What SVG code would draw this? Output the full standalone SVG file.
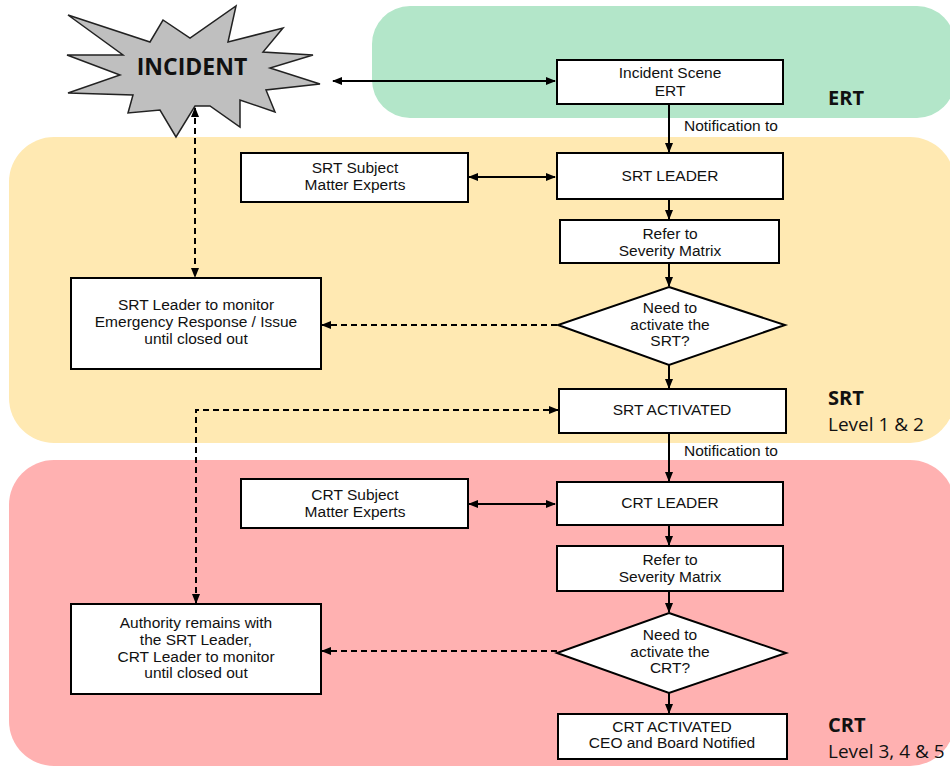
<svg xmlns="http://www.w3.org/2000/svg" width="950" height="767" viewBox="0 0 950 767">
  <style>
    .box{fill:#fff;stroke:#000;stroke-width:2}
    .t{font-family:"Liberation Sans",Arial,sans-serif;font-size:15.5px;fill:#111;text-anchor:middle}
    .lbl{font-family:"Liberation Sans",Arial,sans-serif;font-size:15.5px;fill:#111}
    .band{font-family:"Open Sans","Noto Sans",sans-serif;font-size:19px;fill:#111}
    .bold{font-weight:bold;font-size:20px}
    .ln{fill:none;stroke:#000;stroke-width:2}
    .dash{fill:none;stroke:#000;stroke-width:2;stroke-dasharray:6,4}
  </style>
  <defs>
    <marker id="ah" markerUnits="userSpaceOnUse" markerWidth="10" markerHeight="10" viewBox="0 0 10 10" refX="9" refY="5" orient="auto-start-reverse">
      <path d="M0,1 L10,5 L0,9 Z" fill="#000"/>
    </marker>
  </defs>

  <g id="bands">
    <rect x="372" y="6" width="583" height="112" rx="38" fill="#b3e6c9"/>
    <rect x="9" y="137" width="946" height="306" rx="45" fill="#ffe9b2"/>
    <rect x="9" y="460" width="946" height="306" rx="45" fill="#ffb1b1"/>
  </g>

  <g id="band-labels">
    <text class="band bold" x="828" y="105">ERT</text>
    <text class="band bold" x="828" y="405">SRT</text>
    <text class="band" x="828" y="431">Level 1 &amp; 2</text>
    <text class="band bold" x="828" y="732">CRT</text>
    <text class="band" x="828" y="758">Level 3, 4 &amp; 5</text>
  </g>

  <g id="connectors">
    <line class="ln" x1="333" y1="81" x2="555" y2="81" marker-start="url(#ah)" marker-end="url(#ah)"/>
    <line class="ln" x1="669" y1="104" x2="669" y2="152" marker-end="url(#ah)"/>
    <line class="ln" x1="469" y1="177" x2="555" y2="177" marker-start="url(#ah)" marker-end="url(#ah)"/>
    <line class="ln" x1="669" y1="199" x2="669" y2="219" marker-end="url(#ah)"/>
    <line class="ln" x1="669" y1="263" x2="669" y2="286" marker-end="url(#ah)"/>
    <line class="ln" x1="669" y1="365" x2="669" y2="388" marker-end="url(#ah)"/>
    <line class="ln" x1="669" y1="433" x2="669" y2="481" marker-end="url(#ah)"/>
    <line class="ln" x1="469" y1="504" x2="555" y2="504" marker-start="url(#ah)" marker-end="url(#ah)"/>
    <line class="ln" x1="669" y1="525" x2="669" y2="545" marker-end="url(#ah)"/>
    <line class="ln" x1="669" y1="591" x2="669" y2="612" marker-end="url(#ah)"/>
    <line class="ln" x1="669" y1="693" x2="669" y2="713" marker-end="url(#ah)"/>
    <line class="dash" x1="195" y1="108" x2="195" y2="277" marker-start="url(#ah)" marker-end="url(#ah)"/>
    <line class="dash" x1="557" y1="325" x2="322" y2="325" marker-end="url(#ah)"/>
    <path class="dash" d="M196,603 V410 H558" marker-start="url(#ah)" marker-end="url(#ah)"/>
    <line class="dash" x1="557" y1="651" x2="322" y2="651" marker-end="url(#ah)"/>
    <text class="lbl" x="684" y="131">Notification to</text>
    <text class="lbl" x="684" y="456">Notification to</text>
  </g>

  <g id="incident">
    <polygon points="68,15 150,42 163,20 190,38 236,6 228,42 283,28 263,52 313,55 270,68 320,84 266,90 275,112 240,100 240,127 210,106 195,106 176,137 160,110 128,113 133,95 68,93 120,75 67,55 123,55" fill="#bfbfbf" stroke="#222" stroke-width="1.5" stroke-linejoin="miter"/>
    <text x="192" y="75" font-family="'Open Sans','Noto Sans',sans-serif" font-size="23" font-weight="bold" text-anchor="middle" fill="#111">INCIDENT</text>
  </g>

  <g id="ert">
    <rect class="box" x="557" y="60" width="226" height="44"/>
    <text class="t" x="670" y="78">Incident Scene</text>
    <text class="t" x="670" y="96">ERT</text>
  </g>

  <g id="srt-leader">
    <rect class="box" x="557" y="153" width="226" height="46"/>
    <text class="t" x="670" y="181">SRT LEADER</text>
  </g>

  <g id="srt-sme">
    <rect class="box" x="241" y="153" width="227" height="49"/>
    <text class="t" x="355" y="173">SRT Subject</text>
    <text class="t" x="355" y="190">Matter Experts</text>
  </g>

  <g id="srt-refer">
    <rect class="box" x="560" y="220" width="219" height="43"/>
    <text class="t" x="670" y="239">Refer to</text>
    <text class="t" x="670" y="256">Severity Matrix</text>
  </g>

  <g id="srt-decision">
    <polygon class="box" points="669,287 785,325 669,365 558,325"/>
    <text class="t" x="670" y="313">Need to</text>
    <text class="t" x="670" y="330">activate the</text>
    <text class="t" x="670" y="346">SRT?</text>
  </g>

  <g id="srt-monitor">
    <rect class="box" x="71" y="278" width="250" height="91"/>
    <text class="t" x="196" y="310">SRT Leader to monitor</text>
    <text class="t" x="196" y="327">Emergency Response / Issue</text>
    <text class="t" x="196" y="344">until closed out</text>
  </g>

  <g id="srt-activated">
    <rect class="box" x="559" y="389" width="227" height="44"/>
    <text class="t" x="672" y="415">SRT ACTIVATED</text>
  </g>

  <g id="crt-leader">
    <rect class="box" x="557" y="482" width="226" height="43"/>
    <text class="t" x="670" y="508">CRT LEADER</text>
  </g>

  <g id="crt-sme">
    <rect class="box" x="241" y="479" width="227" height="49"/>
    <text class="t" x="355" y="500">CRT Subject</text>
    <text class="t" x="355" y="517">Matter Experts</text>
  </g>

  <g id="crt-refer">
    <rect class="box" x="557" y="546" width="226" height="45"/>
    <text class="t" x="670" y="565">Refer to</text>
    <text class="t" x="670" y="582">Severity Matrix</text>
  </g>

  <g id="crt-decision">
    <polygon class="box" points="669,613 786,653 669,693 557,653"/>
    <text class="t" x="670" y="640">Need to</text>
    <text class="t" x="670" y="657">activate the</text>
    <text class="t" x="670" y="673">CRT?</text>
  </g>

  <g id="crt-authority">
    <rect class="box" x="71" y="604" width="250" height="90"/>
    <text class="t" x="196" y="628">Authority remains with</text>
    <text class="t" x="196" y="645">the SRT Leader,</text>
    <text class="t" x="196" y="662">CRT Leader to monitor</text>
    <text class="t" x="196" y="678">until closed out</text>
  </g>

  <g id="crt-activated">
    <rect class="box" x="558" y="714" width="229" height="45"/>
    <text class="t" x="672" y="732">CRT ACTIVATED</text>
    <text class="t" x="672" y="748">CEO and Board Notified</text>
  </g>
</svg>
